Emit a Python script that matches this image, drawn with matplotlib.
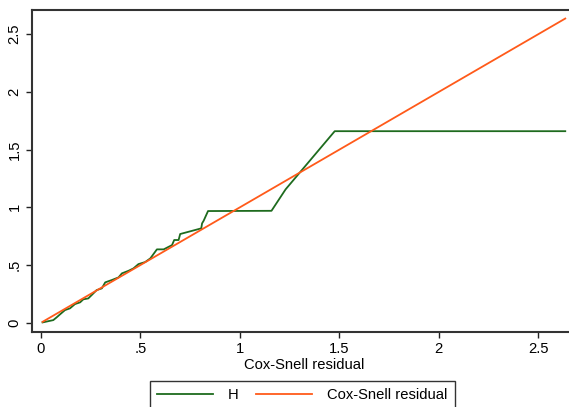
import numpy as np
import matplotlib.pyplot as plt

plt.rcParams['font.family'] = ['Liberation Sans', 'DejaVu Sans']

# Nelson-Aalen cumulative hazard of the Cox-Snell residuals
cs_resid = [0.008, 0.062, 0.079, 0.096, 0.121, 0.146, 0.171, 0.197, 0.213,
            0.238, 0.255, 0.280, 0.306, 0.323, 0.356, 0.390, 0.407, 0.440,
            0.465, 0.490, 0.524, 0.550, 0.583, 0.617, 0.659, 0.670, 0.692,
            0.700, 0.806, 0.810, 0.818, 0.840, 1.159, 1.230, 1.477, 2.636]
H = [0.003, 0.023, 0.047, 0.073, 0.110, 0.125, 0.162, 0.177, 0.203,
     0.211, 0.240, 0.283, 0.298, 0.350, 0.370, 0.393, 0.428, 0.450,
     0.471, 0.508, 0.526, 0.558, 0.636, 0.636, 0.673, 0.717, 0.717,
     0.769, 0.818, 0.861, 0.884, 0.968, 0.970, 1.156, 1.660, 1.660]

# reference line y = x
ref_x = [0.008, 2.636]
ref_y = [0.008, 2.636]

xticks = [0, 0.5, 1, 1.5, 2, 2.5]
xlabels = ['0', '.5', '1', '1.5', '2', '2.5']
yticks = [0, 0.5, 1, 1.5, 2, 2.5]
ylabels = ['0', '.5', '1', '1.5', '2', '2.5']

W, Hpx = 569, 407
fs = 10.6
fig = plt.figure(figsize=(W / 100, Hpx / 100), dpi=100)
ax = fig.add_axes([32 / W, 1 - 332 / Hpx, (576 - 32) / W, (332 - 10) / Hpx])

green = '#1e6b1e'
orange = '#ff5a1a'
ax.plot(cs_resid, H, color=green, lw=1.3, label='H')
ax.plot(ref_x, ref_y, color=orange, lw=1.3, label='Cox-Snell residual')

ax.set_xlim(-0.045, 2.69)
ax.set_ylim(-0.08, 2.71)
ax.set_xticks(xticks)
ax.set_xticklabels(xlabels)
ax.set_yticks(yticks)
ax.set_yticklabels(ylabels, rotation=90, va='center')
ax.tick_params(direction='out', length=4.5, width=1, colors='#222222',
               labelsize=fs, pad=3)
ax.tick_params(axis='x', labelcolor='black')
ax.tick_params(axis='y', labelcolor='black')
for s in ax.spines.values():
    s.set_linewidth(1.5)
    s.set_color('#333333')
ax.spines['right'].set_visible(False)

ax.set_xlabel('Cox-Snell residual', fontsize=fs, labelpad=1)

fig.legend(loc='upper left', bbox_to_anchor=(150 / W, 1 - 381 / Hpx),
           ncol=2, fontsize=fs, frameon=True, fancybox=False,
           edgecolor='black', handlelength=3.8, handletextpad=1.0,
           columnspacing=1.2, borderpad=0.5, borderaxespad=0)
leg = fig.legends[0]
leg.get_frame().set_linewidth(1.0)

fig.savefig('out.png', dpi=100)
